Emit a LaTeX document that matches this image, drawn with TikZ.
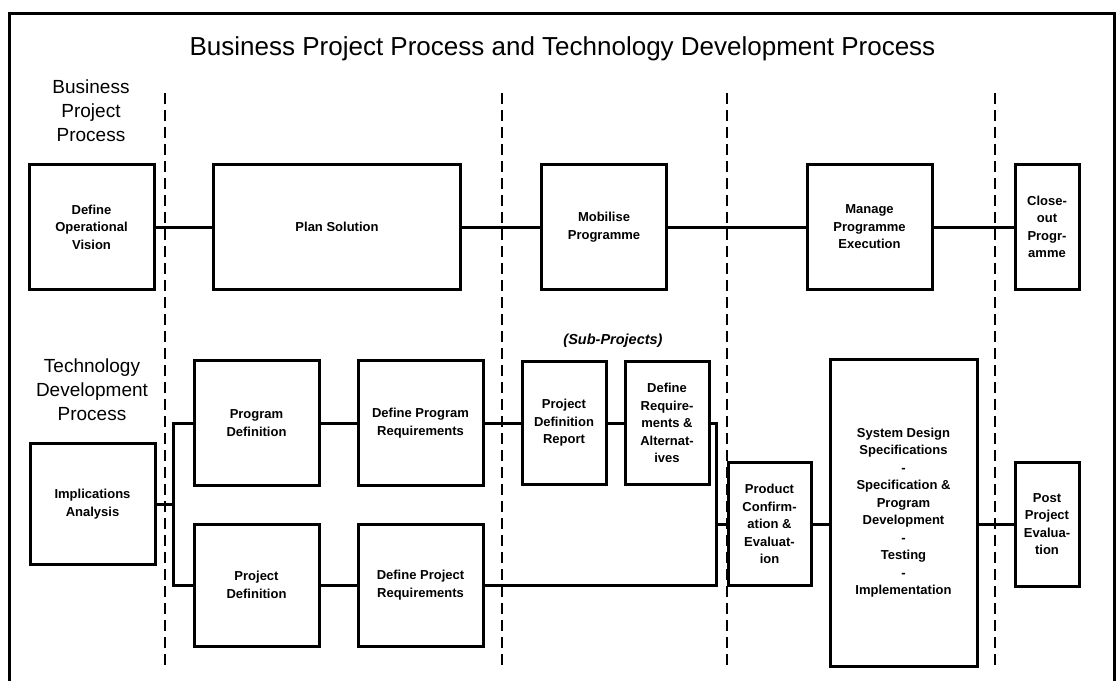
\documentclass[tikz,border=0pt]{standalone}
\usepackage{fontspec}
\setmainfont{Liberation Sans}
\usepackage{tikz}

\begin{document}
\begin{tikzpicture}[x=1pt,y=-1pt,line width=3pt,
  main node/.style={draw,fill=white,line width=3pt,inner sep=0pt,align=center,
    minimum width=125,minimum height=125,font=\bfseries\fontsize{13}{17.5}\selectfont},
  side node/.style={align=center,font=\fontsize{19}{24}\selectfont},
  phase line/.style={line width=2pt,dash pattern=on 11pt off 6pt}]

  \useasboundingbox (0,0) rectangle (1117,681);
  \draw[line width=3pt] (9,681) -- (9,13) -- (1114,13) -- (1114,681);

  \foreach \x in {165,502,727,995}
    \draw[phase line] (\x,93) -- (\x,666);

  \node[anchor=base,font=\fontsize{26}{30}\selectfont] (title) at (562.5,55)
    {Business Project Process and Technology Development Process};
  \node[side node] (bpp) at (91,110.5)
    {Business\\Project\\Process};
  \node[side node] (tdp) at (92,389.5)
    {Technology\\Development\\Process};
  \node[font=\bfseries\itshape\fontsize{14.5}{17}\selectfont] (sub) at (613,341)
    {(Sub-Projects)};

  % business project process
  \node[main node] (101) at (91.5,227)
    {Define\\Operational\\Vision};
  \node[main node, minimum width=247] (102) at (337,227)
    {Plan Solution};
  \node[main node] (103) at (604,227)
    {Mobilise\\Programme};
  \node[main node] (104) at (869.5,227)
    {Manage\\Programme\\Execution};
  \node[main node, minimum width=64] (105) at (1047,227)
    {Close-\\out\\Progr-\\amme};

  \path
    (101) edge (102)
    (102) edge (103)
    (103) edge (104)
    (104) edge (105);

  % technology development process
  \node[main node, minimum height=121] (201) at (92.5,504)
    {Implications\\Analysis};
  \node[main node] (202) at (256.5,423)
    {Program\\Definition};
  \node[main node] (203) at (420.5,423)
    {Define Program\\Requirements};
  \node[main node, minimum width=84, minimum height=123] (204) at (564,423)
    {Project\\Definition\\Report};
  \node[main node, minimum width=84, minimum height=123] (205) at (667,423)
    {Define\\Require-\\ments \&\\Alternat-\\ives};
  \node[main node, minimum height=122] (206) at (256.5,585)
    {Project\\Definition};
  \node[main node, minimum height=122] (207) at (420.5,585)
    {Define Project\\Requirements};
  \node[main node, minimum width=83, minimum height=123] (208) at (769.5,524)
    {Product\\Confirm-\\ation \&\\Evaluat-\\ion};
  \node[main node, minimum width=147, minimum height=307] (209) at (903.5,512.5)
    {System Design\\Specifications\\-\\Specification \&\\Program\\Development\\-\\Testing\\-\\Implementation};
  \node[main node, minimum width=64, minimum height=124] (210) at (1047,524)
    {Post\\Project\\Evalua-\\tion};

  \coordinate (split) at (173,504);
  \coordinate (join) at (716,524);

  \draw (201.east) -- (split);
  \draw (202.west) -| (split) |- (206.west);
  \path
    (202) edge (203)
    (203) edge (204)
    (204) edge (205)
    (206) edge (207);
  \draw (205.east) -| (join) |- (207.east);
  \draw (join) -- (208.west);
  \draw (208.east) -- (208.east -| 209.west);
  \draw (209.east |- 210.west) -- (210.west);

\end{tikzpicture}
\end{document}
